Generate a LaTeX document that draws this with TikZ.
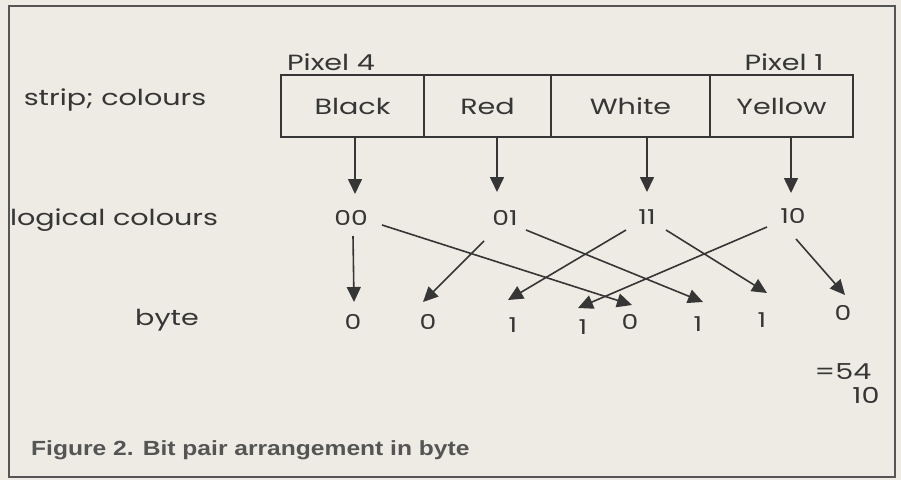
\documentclass[tikz,border=0pt]{standalone}
\usepackage{fontspec}
\setmainfont{Liberation Sans}
\newfontfamily\hand[FakeStretch=1.3]{Poppins}
\newfontfamily\capfont[FakeStretch=1.2]{Liberation Sans}
\usetikzlibrary{calc,arrows.meta}
\definecolor{paper}{HTML}{EDEBE3}
\definecolor{ink}{HTML}{363636}
\definecolor{frame}{HTML}{555555}
\begin{document}
\begin{tikzpicture}[x=1pt,y=-1pt,
  hw/.style={font=\hand\fontsize{22}{26}\selectfont, text=ink, inner sep=0pt},
  bit/.style={hw, font=\hand\fontsize{20.5}{24}\selectfont, text height=14pt, text depth=0pt},
  cell/.style={draw=ink, line width=1.5pt, minimum height=62pt, inner sep=0pt, hw},
  arr/.style={draw=ink, line width=1.6pt, -{Triangle[length=15pt,width=14pt]}},
]
\fill[paper] (0,0) rectangle (901,480);
\useasboundingbox (0,0) rectangle (901,480);
\draw[frame, line width=1.5pt] (9,6) rectangle (895,477);

% side labels
\node[hw] (lstrip) at (115,100) {strip; colours};
\node[hw] (llog) at (114,220) {logical colours};
\node[hw] (lbyte) at (167,320) {byte};

% pixel labels
\node[hw] (p4) at (331,62) {Pixel 4};
\node[hw] (p1) at (784,62) {Pixel 1};

% colour strip
\node[cell, minimum width=143pt] (black)  at (352.5,106) {Black};
\node[cell, minimum width=127pt] (red)    at (487.5,106) {Red};
\node[cell, minimum width=159pt] (white)  at (630.5,106) {White};
\node[cell, minimum width=143pt] (yellow) at (781.5,106) {Yellow};

% logical colours
\node[bit] (l00) at (351,218) {00};
\node[bit] (l01) at (505,218) {01};
\node[bit] (l11) at (647,217) {11};
\node[bit] (l10) at (793,216) {10};

% byte bits
\node[bit] (b1) at (353,322) {0};
\node[bit] (b2) at (428,322) {0};
\node[bit] (b3) at (513,325) {1};
\node[bit] (b4) at (583,327) {1};
\node[bit] (b5) at (630,322) {0};
\node[bit] (b6) at (698,324) {1};
\node[bit] (b7) at (762,320) {1};
\node[bit] (b8) at (843,313) {0};

% result
\node[hw] (eq) at (843,372) {=54};
\node[hw] (eqsub) at (866,395) {10};

% caption
\node[anchor=west, font=\capfont\bfseries\fontsize{20.5}{24}\selectfont, text=frame, inner sep=0pt] (cap) at (31,450) {Figure 2. Bit pair arrangement in byte};

% strip -> logical colours
\draw[arr] ($(black.south)+(2.5,0)$) -- ($(l00)+(4,-24)$);
\draw[arr] ($(red.south)+(9.5,0)$) -- ($(l01)+(-8,-26)$);
\draw[arr] ($(white.south)+(16.5,0)$) -- ($(l11)+(0,-25)$);
\draw[arr] ($(yellow.south)+(9.5,0)$) -- ($(l10)+(-2,-23)$);

% logical colours -> byte bits
\draw[arr] ($(l00)+(2,18)$) -- ($(b1)+(1,-20)$);
\draw[arr] ($(l00)+(31,7)$) -- ($(b5)+(2,-17)$);
\draw[arr] ($(l01)+(-21,23)$) -- ($(b2)+(-5,-20)$);
\draw[arr] ($(l01)+(21,12)$) -- ($(b6)+(5,-22)$);
\draw[arr] ($(l11)+(-21,13)$) -- ($(b3)+(-5,-25)$);
\draw[arr] ($(l11)+(19,13)$) -- ($(b7)+(5,-27)$);
\draw[arr] ($(l10)+(-26,11)$) -- ($(b4)+(-5,-19)$);
\draw[arr] ($(l10)+(3,23)$) -- ($(b8)+(2,-18)$);
\end{tikzpicture}
\end{document}
